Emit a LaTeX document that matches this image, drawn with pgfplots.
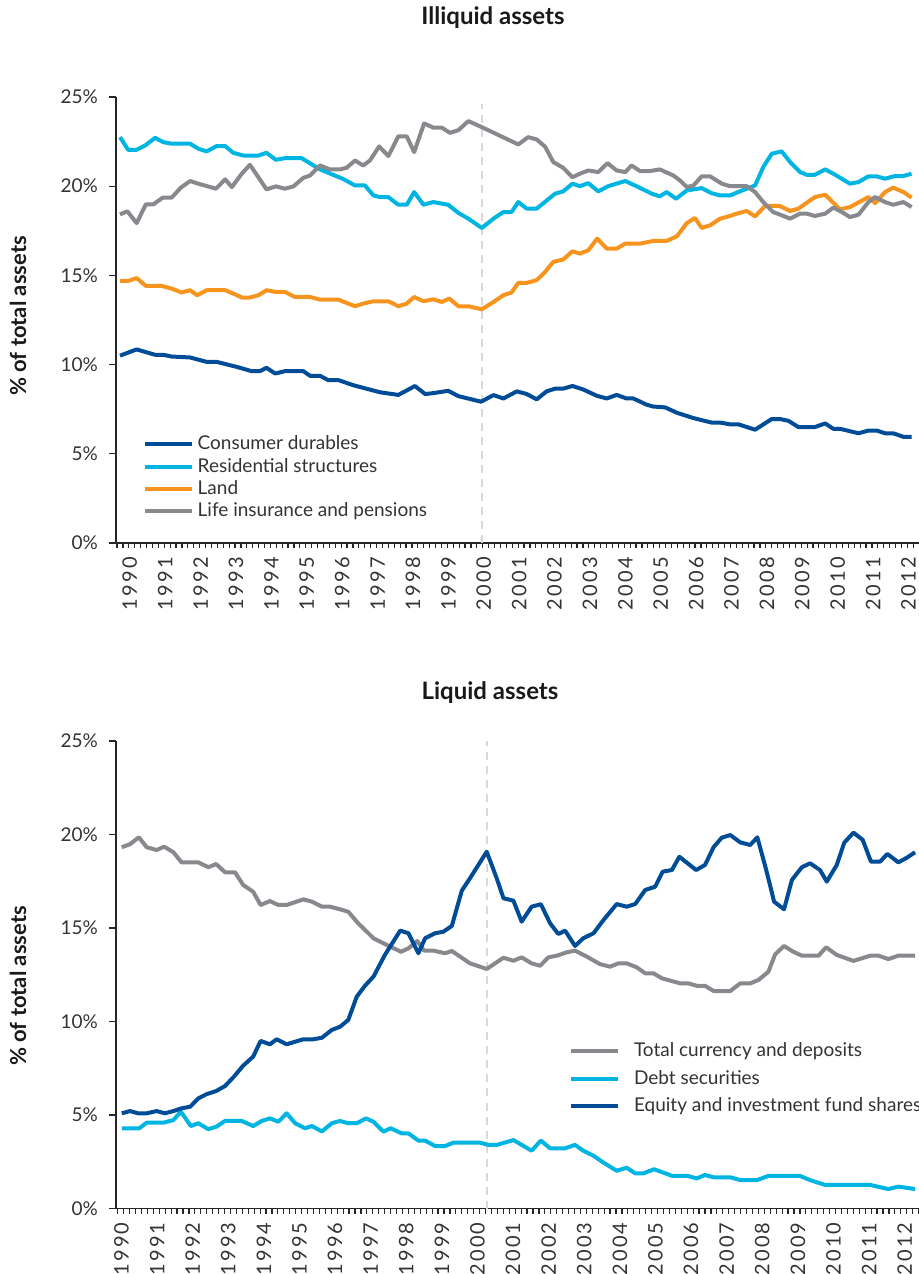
\documentclass[border=0pt]{standalone}
\usepackage{fontspec}
\setmainfont{Lato}
\newfontfamily\tickfont[LetterSpace=11]{Lato}
\usepackage{pgfplots}
\pgfplotsset{compat=1.18}
\definecolor{cdark}{HTML}{004C97}
\definecolor{clight}{HTML}{00B5E2}
\definecolor{corange}{HTML}{F7941D}
\definecolor{cgrey}{HTML}{88888D}
\definecolor{ctext}{HTML}{333333}
\definecolor{cdash}{HTML}{D9D9D9}
\pgfplotsset{
  myaxis/.style={
    scale only axis,
    width=401.5pt,
    axis x line*=bottom, axis y line*=left,
    axis line style={line width=0.75pt, color=black!85},
    ymin=0, ymax=25,
    ytick={0,5,10,15,20,25},
    yticklabels={0\%,5\%,10\%,15\%,20\%,25\%},
    yticklabel style={font=\fontsize{9.5}{11}\selectfont, text=ctext, xshift=-2pt},
    xticklabels={1990,1991,1992,1993,1994,1995,1996,1997,1998,1999,2000,2001,2002,2003,2004,2005,2006,2007,2008,2009,2010,2011,2012},
    xticklabel style={rotate=90, anchor=east, font=\tickfont\fontsize{10}{11}\selectfont, text=ctext, yshift=-4pt},
    minor xtick={1989.9167,1990.0833,...,2012.6},
    major x tick style={draw=none},
    tick align=outside,
    major tick length=3.5pt,
    minor tick length=2.5pt,
    tick style={color=black!85, line width=0.6pt},
    every axis plot/.append style={line width=2pt, line join=round, no markers},
    clip=false,
    legend cell align=left,
    legend image code/.code={\draw[#1, line width=2pt] (0pt,0pt) -- (23.5pt,0pt);},
  }
}
\begin{document}
\begin{tikzpicture}
\clip (0,0) rectangle (459.5pt,637pt);
\path (0,0) rectangle (459.5pt,637pt);
% titles and y labels
\node[font=\bfseries\fontsize{12}{14}\selectfont, text=black!90] at (246.5pt,628pt) {Illiquid assets};
\node[font=\bfseries\fontsize{12}{14}\selectfont, text=black!90] at (245pt,290.5pt) {Liquid assets};
\node[font=\bfseries\fontsize{11}{13}\selectfont, text=black!90, rotate=90] at (9pt,479pt) {\% of total assets};
\node[font=\bfseries\fontsize{11}{13}\selectfont, text=black!90, rotate=90] at (9pt,144pt) {\% of total assets};

% ---------------- top: illiquid ----------------
\begin{axis}[myaxis, at={(58pt,365.5pt)}, anchor=south west, height=223pt,
  xmin=1989.887, xmax=2012.57,
  xtick={1990.05,1991.05,...,2012.1},
  legend style={at={(axis cs:1990.63,6.25)}, anchor=north west, draw=none, fill=none,
    font=\fontsize{9.5}{11}\selectfont, text=ctext, inner sep=0pt, row sep=-1.4pt,
    /tikz/every odd column/.append style={column sep=0pt}},
]
\addplot[cdash, line width=1pt, dash pattern=on 4pt off 3pt, forget plot] coordinates {(2000.22,0) (2000.22,24.6)};
\addplot[cdark] coordinates {
(1990.00,10.5) (1990.47,10.85) (1990.99,10.55) (1991.22,10.55) (1991.46,10.45) (1991.98,10.4)
(1992.45,10.15) (1992.73,10.15) (1993.30,9.87) (1993.72,9.63) (1993.95,9.63) (1994.14,9.82)
(1994.38,9.5) (1994.66,9.63) (1995.18,9.63) (1995.37,9.37) (1995.65,9.37) (1995.88,9.13)
(1996.17,9.13) (1996.58,8.85) (1997.34,8.45) (1997.86,8.3) (1998.10,8.55) (1998.33,8.8)
(1998.62,8.35) (1998.85,8.4) (1999.27,8.53) (1999.56,8.23) (2000.20,7.92) (2000.55,8.29)
(2000.83,8.1) (2001.21,8.5) (2001.49,8.35) (2001.77,8.05) (2002.05,8.5) (2002.29,8.65)
(2002.52,8.65) (2002.78,8.8) (2003.09,8.6) (2003.47,8.25) (2003.75,8.1) (2004.03,8.3)
(2004.31,8.1) (2004.50,8.1) (2004.88,7.75) (2005.06,7.65) (2005.40,7.6) (2005.73,7.3)
(2006.20,7.0) (2006.71,6.75) (2006.95,6.75) (2007.23,6.65) (2007.47,6.65) (2007.94,6.35)
(2008.41,6.95) (2008.64,6.95) (2008.88,6.85) (2009.16,6.5) (2009.63,6.5) (2009.92,6.7)
(2010.15,6.4) (2010.34,6.4) (2010.86,6.15) (2011.14,6.3) (2011.38,6.3) (2011.61,6.15)
(2011.84,6.15) (2012.13,5.95) (2012.36,5.95)
};
\addlegendentry{Consumer durables}
\addplot[clight] coordinates {
(1990.00,22.75) (1990.23,22.04) (1990.47,22.04) (1990.71,22.28) (1990.99,22.71) (1991.22,22.47)
(1991.46,22.38) (1991.98,22.38) (1992.21,22.1) (1992.45,21.95) (1992.73,22.25) (1992.97,22.25)
(1993.20,21.87) (1993.48,21.72) (1993.91,21.72) (1994.14,21.87) (1994.40,21.48) (1994.66,21.57)
(1995.13,21.57) (1995.65,20.94) (1996.31,20.4) (1996.64,20.04) (1996.92,20.04) (1997.16,19.48)
(1997.34,19.39) (1997.58,19.39) (1997.86,18.96) (1998.10,18.96) (1998.31,19.67) (1998.57,18.96)
(1998.85,19.11) (1999.27,18.96) (1999.56,18.5) (1999.84,18.18) (2000.22,17.66) (2000.55,18.18)
(2000.83,18.55) (2001.06,18.55) (2001.25,19.11) (2001.49,18.74) (2001.77,18.74) (2002.29,19.58)
(2002.52,19.71) (2002.78,20.14) (2002.99,20.0) (2003.23,20.17) (2003.51,19.71) (2003.79,20.0)
(2004.27,20.29) (2004.60,19.99) (2005.02,19.58) (2005.25,19.43) (2005.44,19.67) (2005.71,19.3)
(2006.01,19.76) (2006.43,19.89) (2006.71,19.61) (2006.95,19.48) (2007.23,19.48) (2007.51,19.71)
(2007.94,20.04) (2008.17,21.07) (2008.41,21.82) (2008.69,21.95) (2008.93,21.35) (2009.21,20.79)
(2009.40,20.64) (2009.63,20.64) (2009.92,20.94) (2010.15,20.7) (2010.62,20.14) (2010.86,20.23)
(2011.14,20.55) (2011.38,20.55) (2011.61,20.42) (2011.89,20.57) (2012.13,20.57) (2012.36,20.7)
};
\addlegendentry{Residential structures}
\addplot[corange] coordinates {
(1990.00,14.69) (1990.23,14.69) (1990.47,14.85) (1990.73,14.41) (1991.18,14.41) (1991.46,14.26)
(1991.74,14.04) (1991.98,14.17) (1992.18,13.89) (1992.45,14.17) (1992.97,14.17) (1993.20,13.98)
(1993.44,13.76) (1993.67,13.76) (1993.91,13.89) (1994.14,14.17) (1994.40,14.07) (1994.66,14.07)
(1994.94,13.79) (1995.37,13.79) (1995.65,13.64) (1996.17,13.64) (1996.64,13.27) (1996.87,13.42)
(1997.16,13.55) (1997.58,13.55) (1997.86,13.27) (1998.10,13.42) (1998.31,13.79) (1998.57,13.55)
(1998.85,13.66) (1999.09,13.51) (1999.30,13.7) (1999.56,13.27) (1999.84,13.27) (2000.22,13.1)
(2000.55,13.51) (2000.83,13.89) (2001.06,14.04) (2001.25,14.58) (2001.49,14.58) (2001.77,14.73)
(2002.01,15.2) (2002.24,15.76) (2002.52,15.89) (2002.78,16.35) (2002.99,16.22) (2003.23,16.41)
(2003.48,17.06) (2003.75,16.5) (2004.03,16.5) (2004.27,16.78) (2004.69,16.78) (2005.06,16.93)
(2005.44,16.93) (2005.73,17.19) (2006.01,17.93) (2006.24,18.22) (2006.43,17.66) (2006.67,17.81)
(2006.95,18.18) (2007.23,18.33) (2007.42,18.46) (2007.70,18.61) (2007.94,18.31) (2008.22,18.89)
(2008.64,18.89) (2008.93,18.61) (2009.16,18.74) (2009.63,19.39) (2009.92,19.52) (2010.34,18.7)
(2010.62,18.83) (2011.14,19.39) (2011.33,19.05) (2011.61,19.67) (2011.84,19.92) (2012.13,19.67)
(2012.36,19.36)
};
\addlegendentry{Land}
\addplot[cgrey] coordinates {
(1990.00,18.42) (1990.21,18.59) (1990.47,17.93) (1990.73,18.98) (1990.94,18.98) (1991.21,19.36)
(1991.46,19.36) (1991.72,19.92) (1991.98,20.29) (1992.21,20.14) (1992.71,19.86) (1992.97,20.38)
(1993.16,19.95) (1993.44,20.7) (1993.67,21.2) (1994.14,19.82) (1994.40,19.99) (1994.66,19.86)
(1994.90,19.99) (1995.18,20.47) (1995.37,20.6) (1995.65,21.16) (1995.93,20.94) (1996.21,20.94)
(1996.40,21.03) (1996.64,21.44) (1996.87,21.16) (1997.06,21.44) (1997.32,22.23) (1997.58,21.69)
(1997.86,22.79) (1998.10,22.79) (1998.31,21.91) (1998.59,23.52) (1998.85,23.28) (1999.09,23.28)
(1999.32,22.99) (1999.56,23.14) (1999.84,23.65) (2000.22,23.31) (2001.25,22.34) (2001.53,22.75)
(2001.77,22.62) (2002.01,22.21) (2002.24,21.35) (2002.52,21.03) (2002.78,20.5) (2002.99,20.7)
(2003.23,20.88) (2003.51,20.79) (2003.77,21.29) (2004.03,20.88) (2004.27,20.79) (2004.45,21.16)
(2004.69,20.85) (2004.97,20.85) (2005.25,20.94) (2005.63,20.6) (2005.82,20.32) (2006.01,19.95)
(2006.20,20.04) (2006.43,20.55) (2006.67,20.55) (2007.00,20.14) (2007.23,20.0) (2007.70,20.0)
(2007.94,19.67) (2008.17,19.11) (2008.45,18.55) (2008.69,18.37) (2008.93,18.18) (2009.21,18.46)
(2009.40,18.46) (2009.63,18.33) (2009.92,18.46) (2010.15,18.8) (2010.39,18.55) (2010.62,18.27)
(2010.86,18.4) (2011.14,19.11) (2011.33,19.39) (2011.61,19.11) (2011.84,18.96) (2012.13,19.11)
(2012.36,18.83)
};
\addlegendentry{Life insurance and pensions}
\end{axis}

% ---------------- bottom: liquid ----------------
\begin{axis}[myaxis, at={(58pt,32.75pt)}, anchor=south west, height=233.75pt,
  xmin=1989.868, xmax=2012.42,
  xtick={1989.88,1990.88,...,2011.9},
  xticklabel style={yshift=1.5pt},
  legend style={at={(axis cs:2002.58,9.1)}, anchor=north west, draw=none, fill=none,
    font=\fontsize{9.5}{11}\selectfont, text=ctext, inner sep=0pt, row sep=1.3pt,
    /tikz/every odd column/.append style={column sep=5pt}},
]
\addplot[cdash, line width=1pt, dash pattern=on 4pt off 3pt, forget plot] coordinates {(2000.28,0) (2000.28,25)};
\addplot[cgrey] coordinates {
(1990.03,19.32) (1990.26,19.48) (1990.51,19.85) (1990.73,19.32) (1991.01,19.17) (1991.22,19.35)
(1991.48,19.05) (1991.71,18.51) (1992.18,18.51) (1992.46,18.25) (1992.68,18.42) (1992.93,17.98)
(1993.21,17.98) (1993.44,17.3) (1993.72,16.94) (1993.93,16.23) (1994.19,16.44) (1994.43,16.23)
(1994.66,16.23) (1995.13,16.53) (1995.37,16.41) (1995.65,16.14) (1995.88,16.14) (1996.16,16.0)
(1996.39,15.87) (1996.67,15.25) (1997.10,14.45) (1997.38,14.18) (1997.87,13.73) (1998.08,13.91)
(1998.33,14.3) (1998.52,13.79) (1998.78,13.79) (1999.11,13.65) (1999.30,13.77) (1999.81,13.11)
(2000.28,12.81) (2000.75,13.41) (2001.03,13.25) (2001.26,13.43) (2001.54,13.11) (2001.78,12.98)
(2002.01,13.43) (2002.25,13.52) (2002.53,13.7) (2002.76,13.79) (2003.09,13.47) (2003.46,13.07)
(2003.74,12.93) (2003.98,13.11) (2004.21,13.11) (2004.49,12.9) (2004.73,12.58) (2004.96,12.58)
(2005.20,12.31) (2005.71,12.04) (2005.94,12.04) (2006.18,11.91) (2006.41,11.91) (2006.65,11.63)
(2007.12,11.63) (2007.40,12.04) (2007.68,12.04) (2007.91,12.22) (2008.19,12.66) (2008.38,13.59)
(2008.63,14.04) (2008.89,13.73) (2009.13,13.52) (2009.60,13.52) (2009.81,13.97) (2010.11,13.56)
(2010.58,13.24) (2011.05,13.52) (2011.28,13.52) (2011.56,13.34) (2011.84,13.52) (2012.31,13.52)
};
\addlegendentry{Total currency and deposits}
\addplot[clight] coordinates {
(1990.03,4.29) (1990.52,4.29) (1990.73,4.59) (1991.20,4.59) (1991.48,4.73) (1991.69,5.18)
(1991.97,4.41) (1992.18,4.56) (1992.46,4.24) (1992.68,4.37) (1992.93,4.68) (1993.40,4.68)
(1993.72,4.41) (1993.96,4.68) (1994.19,4.82) (1994.43,4.64) (1994.66,5.09) (1994.90,4.56)
(1995.18,4.29) (1995.37,4.41) (1995.65,4.12) (1995.93,4.56) (1996.16,4.68) (1996.39,4.56)
(1996.63,4.56) (1996.89,4.82) (1997.10,4.64) (1997.38,4.11) (1997.58,4.29) (1997.89,4.02)
(1998.08,4.02) (1998.36,3.63) (1998.55,3.63) (1998.83,3.34) (1999.11,3.34) (1999.34,3.52)
(2000.09,3.52) (2000.33,3.4) (2000.56,3.4) (2001.03,3.66) (2001.54,3.09) (2001.80,3.63)
(2002.06,3.22) (2002.48,3.22) (2002.76,3.4) (2002.99,3.09) (2003.28,2.82) (2003.56,2.45)
(2003.93,2.02) (2004.21,2.18) (2004.45,1.88) (2004.68,1.88) (2004.98,2.1) (2005.48,1.75)
(2005.90,1.75) (2006.18,1.61) (2006.41,1.79) (2006.65,1.67) (2007.12,1.67) (2007.40,1.52)
(2007.87,1.52) (2008.19,1.74) (2009.08,1.74) (2009.36,1.52) (2009.78,1.26) (2011.05,1.26)
(2011.56,1.04) (2011.84,1.17) (2012.31,1.04)
};
\addlegendentry{Debt securities}
\addplot[cdark] coordinates {
(1990.03,5.09) (1990.26,5.21) (1990.49,5.09) (1990.73,5.09) (1991.01,5.21) (1991.24,5.09)
(1991.48,5.21) (1991.71,5.36) (1991.95,5.44) (1992.18,5.89) (1992.42,6.12) (1992.68,6.28)
(1992.93,6.55) (1993.18,7.05) (1993.44,7.64) (1993.72,8.12) (1993.93,8.96) (1994.19,8.78)
(1994.38,9.05) (1994.66,8.78) (1994.90,8.92) (1995.13,9.05) (1995.41,9.05) (1995.65,9.13)
(1995.93,9.55) (1996.16,9.72) (1996.39,10.08) (1996.63,11.33) (1996.86,11.91) (1997.10,12.4)
(1997.42,13.56) (1997.85,14.86) (1998.08,14.72) (1998.36,13.65) (1998.55,14.45) (1998.83,14.72)
(1999.06,14.8) (1999.30,15.11) (1999.58,17.0) (1999.81,17.66) (2000.28,19.08) (2000.56,17.66)
(2000.75,16.59) (2001.03,16.46) (2001.26,15.34) (2001.54,16.14) (2001.80,16.27) (2002.06,15.25)
(2002.29,14.68) (2002.48,14.86) (2002.76,14.04) (2002.99,14.45) (2003.28,14.72) (2003.56,15.43)
(2003.93,16.28) (2004.21,16.14) (2004.45,16.28) (2004.73,17.03) (2005.01,17.21) (2005.22,18.01)
(2005.48,18.1) (2005.69,18.81) (2006.16,18.1) (2006.41,18.37) (2006.65,19.32) (2006.88,19.83)
(2007.12,19.97) (2007.40,19.58) (2007.68,19.44) (2007.88,19.85) (2008.13,18.1) (2008.35,16.41)
(2008.63,16.0) (2008.85,17.57) (2009.13,18.25) (2009.36,18.46) (2009.64,18.1) (2009.83,17.48)
(2010.11,18.37) (2010.32,19.56) (2010.58,20.1) (2010.84,19.71) (2011.07,18.55) (2011.33,18.55)
(2011.53,18.96) (2011.84,18.51) (2012.08,18.76) (2012.31,19.05)
};
\addlegendentry{Equity and investment fund shares}
\end{axis}
\end{tikzpicture}
\end{document}
